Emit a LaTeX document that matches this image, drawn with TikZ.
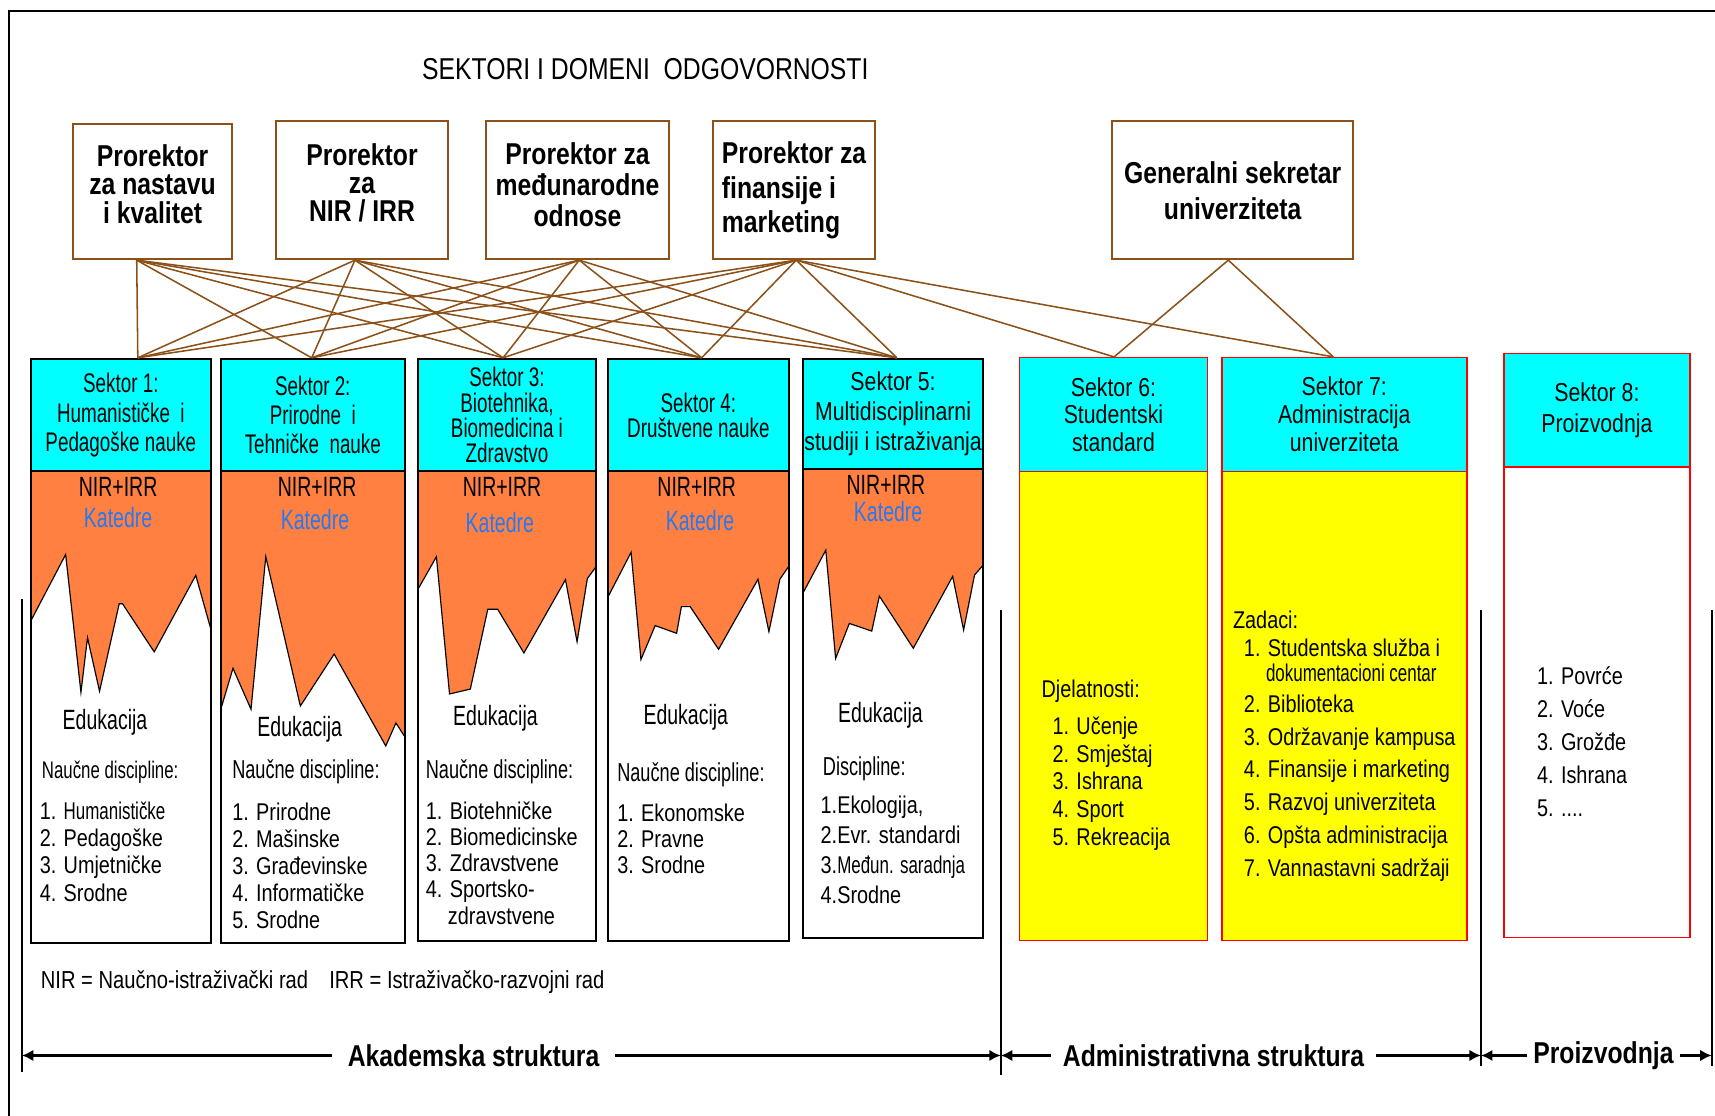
\documentclass[tikz,border=0pt]{standalone}
\usepackage{fontspec}
\setmainfont{Liberation Sans}[FakeStretch=0.82]
\newfontfamily\uska{Liberation Sans}[FakeStretch=0.7]
\usetikzlibrary{arrows.meta}
\newcommand{\pu}{0.02cm}
\definecolor{smeda}{RGB}{140,80,25}
\definecolor{cijan}{RGB}{0,255,255}
\definecolor{narandzasta}{RGB}{255,128,64}
\definecolor{zuta}{RGB}{255,255,0}
\definecolor{plava}{RGB}{40,120,240}
\definecolor{crvena}{RGB}{255,0,0}
\tikzset{
     naslov/.style = { font=\fontsize{15.7}{18}\selectfont, inner sep=0pt },
  prorektor/.style = { draw=smeda, line width=1pt, align=center, inner sep=0pt,
                       font=\bfseries\fontsize{15.7}{14.8}\selectfont },
       veza/.style = { draw=smeda, line width=0.8pt },
  zaglavlje/.style = { fill=cijan, draw=black, line width=1pt, align=center, inner sep=0pt,
                       font=\uska\fontsize{14}{15.2}\selectfont },
     tijelo/.style = { draw=black, line width=1pt, inner sep=0pt },
       gora/.style = { fill=narandzasta, draw=black, line width=0.6pt },
      pismo/.style = { font=\uska\fontsize{14.5}{16}\selectfont, inner sep=0pt },
    katedra/.style = { pismo, text=plava },
      lista/.style = { font=\fontsize{12.6}{14.1}\selectfont, align=left, anchor=west, inner sep=0pt },
   naslovl/.style = { font=\uska\fontsize{13.5}{15}\selectfont, anchor=west, inner sep=0pt },
  struktura/.style = { font=\bfseries\fontsize{15.7}{18}\selectfont, inner sep=6pt },
   strelica/.style = { line width=1.6pt, -{Latex[length=6pt,width=6pt]} },
    granica/.style = { line width=1.1pt },
}
\begin{document}
\begin{tikzpicture}[x=\pu, y=-\pu]
  \useasboundingbox (0,0) rectangle (1568,1020);
  \draw[line width=1.2pt] (8,1020) -- (8,10) -- (1568,10);

  \node[naslov] (naslov) at (590,63) {SEKTORI I DOMENI~~ODGOVORNOSTI};

  \node[prorektor, minimum width=145*\pu, minimum height=124*\pu] (p1) at (139.5,175)
    {Prorektor\\za nastavu\\i kvalitet\rule[-8pt]{0pt}{8pt}};
  \node[prorektor, minimum width=158*\pu, minimum height=126*\pu] (p2) at (331,174)
    {Prorektor\\za\\NIR / IRR\rule[-8pt]{0pt}{8pt}};
  \node[prorektor, minimum width=168*\pu, minimum height=126*\pu, font=\bfseries\fontsize{15.7}{16.2}\selectfont] (p3) at (528,174)
    {Prorektor za\\međunarodne\\odnose\rule[-6pt]{0pt}{6pt}};
  \node[prorektor, minimum width=148*\pu, minimum height=126*\pu, align=left, font=\bfseries\fontsize{15.7}{17.9}\selectfont] (p4) at (726,174)
    {Prorektor za\\finansije i\\marketing};
  \node[prorektor, minimum width=220*\pu, minimum height=126*\pu, font=\bfseries\fontsize{15.7}{18.8}\selectfont] (gs) at (1127,174)
    {Generalni sekretar\\univerziteta};

  \filldraw[gora] (28,431) -- (28,568) -- (60,507) -- (74,633) -- (80,583) -- (91,632) -- (109,552) -- (112,552)
    -- (141,596) -- (179,526) -- (193,576) -- (193,431) -- cycle;
  \filldraw[gora] (202,431) -- (202,648) -- (213,611) -- (229.5,648.5) -- (243,509) -- (274.6,645.5) -- (305.5,598)
    -- (352.7,682) -- (362,661) -- (370,673.5) -- (370,431) -- cycle;
  \filldraw[gora] (382,431) -- (382,539) -- (399,509) -- (411,634.5) -- (430,630) -- (446,557) -- (455,557)
    -- (479,597) -- (517,530) -- (527.6,586.7) -- (537,529) -- (545,518) -- (545,431) -- cycle;
  \filldraw[gora] (556,431) -- (556,545.5) -- (577,505) -- (586,603) -- (599,572) -- (618.6,579) -- (623,554.6)
    -- (631,554.6) -- (657,593.6) -- (693,529.6) -- (703,577.5) -- (713,529.6) -- (721,518) -- (721,431) -- cycle;
  \filldraw[gora] (734,429) -- (734,542.5) -- (755,503) -- (764,602) -- (776.5,570) -- (797,577) -- (804,545)
    -- (835,592.7) -- (871,527) -- (881,576) -- (891,525.7) -- (899,516.5) -- (899,429) -- cycle;

  \foreach \i/\x/\w/\t/\h in {1/110.5/165/431/862, 2/286/168/431/862, 3/463.5/163/431/860, 4/638.5/165/431/860, 5/816.5/165/429/858}
    \node[tijelo, minimum width=\w*\pu, minimum height={(\h-\t)*\pu}] (s\i b) at (\x,{(\h+\t)/2}) {};
  \node[tijelo, fill=zuta, draw=crvena, line width=0.8pt, minimum width=172*\pu, minimum height=429*\pu] (s6b) at (1018,645.5) {};
  \node[tijelo, fill=zuta, draw=crvena, line width=0.8pt, minimum width=224*\pu, minimum height=429*\pu] (s7b) at (1229,645.5) {};
  \node[tijelo, draw=crvena, line width=0.8pt, minimum width=170*\pu, minimum height=430*\pu] (s8b) at (1460,642) {};

  \node[zaglavlje, minimum width=165*\pu, minimum height=103*\pu, font=\uska\fontsize{14}{15.4}\selectfont] (s1) at (110.5,379.5)
    {Sektor 1:\\Humanističke~~i\\Pedagoške nauke};
  \node[zaglavlje, minimum width=168*\pu, minimum height=103*\pu] (s2) at (286,379.5)
    {Sektor 2:\\Prirodne~~i\\Tehničke~~nauke};
  \node[zaglavlje, minimum width=163*\pu, minimum height=103*\pu, font=\uska\fontsize{14}{13.1}\selectfont] (s3) at (463.5,379.5)
    {Sektor 3:\\Biotehnika,\\Biomedicina i\\Zdravstvo};
  \node[zaglavlje, minimum width=165*\pu, minimum height=103*\pu, font=\uska\fontsize{14}{13.1}\selectfont] (s4) at (638.5,379.5)
    {Sektor 4:\\Društvene nauke};
  \node[zaglavlje, minimum width=165*\pu, minimum height=101*\pu, font=\fontsize{13.5}{15.6}\selectfont] (s5) at (816.5,378.5)
    {Sektor 5:\\Multidisciplinarni\\studiji i istraživanja};
  \node[zaglavlje, draw=crvena, line width=0.8pt, minimum width=172*\pu, minimum height=104*\pu, font=\fontsize{13.5}{14.2}\selectfont] (s6) at (1018,379)
    {Sektor 6:\\Studentski\\standard};
  \node[zaglavlje, draw=crvena, line width=0.8pt, minimum width=224*\pu, minimum height=104*\pu, font=\fontsize{13.5}{14.5}\selectfont] (s7) at (1229,379)
    {Sektor 7:\\Administracija\\univerziteta};
  \node[zaglavlje, draw=crvena, line width=0.8pt, minimum width=170*\pu, minimum height=104*\pu, font=\fontsize{13.5}{15.9}\selectfont] (s8) at (1460,375)
    {Sektor 8:\\Proizvodnja};

  \coordinate (o1) at ([xshift=-14.5*\pu]p1.south);
  \coordinate (o2) at ([xshift=-6.5*\pu]p2.south);
  \coordinate (o3) at ([xshift=1.6*\pu]p3.south);
  \coordinate (o4) at ([xshift=2*\pu]p4.south);
  \coordinate (og) at ([xshift=-4*\pu]gs.south);
  \foreach \i/\dx in {1/15.5, 2/-1, 3/-3.5, 4/3, 5/3.5, 6/0.6, 7/-10}
    \coordinate (t\i) at ([xshift=\dx*\pu]s\i.north);
  \foreach \p in {1,...,4}
    \foreach \s in {1,...,5}
      \draw[veza] (o\p) -- (t\s);
  \foreach \s in {6,7} {
    \draw[veza] (o4) -- (t\s);
    \draw[veza] (og) -- (t\s);
  }

  \foreach \i/\x/\yn/\xk/\yk in {1/108/445/108/473, 2/290/445/288/475, 3/459/445/457/478, 4/637/445/640/476, 5/810/443/812/468} {
    \node[pismo] (nir\i) at (\x,\yn) {NIR+IRR};
    \node[katedra] (kat\i) at (\xk,\yk) {Katedre};
  }
  \foreach \i/\x/\y in {1/96/660, 2/274/667, 3/453/657, 4/627/656, 5/805/654}
    \node[pismo] (edu\i) at (\x,\y) {Edukacija};

  \node[naslovl, font=\uska\fontsize{12.5}{15}\selectfont] (nd1) at (38,706) {Naučne discipline:};
  \node[naslovl] (nd2) at (212,706) {Naučne discipline:};
  \node[naslovl] (nd3) at (389,706) {Naučne discipline:};
  \node[naslovl] (nd4) at (564,708) {Naučne discipline:};
  \node[naslovl] (nd5) at (752,703) {Discipline:};

  \node[lista, font=\fontsize{12.6}{14.2}\selectfont] (l1) at (36,778.5)
    {1. {\uska Humanističke}\\2. Pedagoške\\3. Umjetničke\\4. Srodne};
  \node[lista] (l2) at (212,791.5)
    {1. Prirodne\\2. Mašinske\\3. Građevinske\\4. Informatičke\\5. Srodne};
  \node[lista, font=\fontsize{12.6}{13.7}\selectfont] (l3) at (389,789)
    {1. Biotehničke\\2. Biomedicinske\\3. Zdravstvene\\4. Sportsko-\\\phantom{4.}\ zdravstvene};
  \node[lista, font=\fontsize{12.6}{13.7}\selectfont] (l4) at (564,767)
    {1. Ekonomske\\2. Pravne\\3. Srodne};
  \node[lista, font=\fontsize{12.6}{15.5}\selectfont] (l5) at (750,777)
    {1.Ekologija,\\2.Evr. standardi\\3.{\uska Međun. saradnja}\\4.Srodne};

  \node[lista] (dj6) at (952,632) {Djelatnosti:};
  \node[lista, font=\fontsize{12.6}{14.4}\selectfont] (l6) at (962,716.5)
    {1. Učenje\\2. Smještaj\\3. Ishrana\\4. Sport\\5. Rekreacija};
  \node[lista] (za7) at (1127,567) {Zadaci:};
  \node[lista, font=\fontsize{12.6}{17.1}\selectfont] (l7) at (1137,695)
    {1. Studentska služba i\\[-4pt]\phantom{1.}\ {\uska dokumentacioni centar}\\[-1.2pt]2. Biblioteka\\3. Održavanje kampusa\\4. Finansije i marketing\\5. Razvoj univerziteta\\6. Opšta administracija\\7. Vannastavni sadržaji};
  \node[lista, font=\fontsize{12.6}{17.1}\selectfont] (l8) at (1405,678)
    {1. Povrće\\2. Voće\\3. Grožđe\\4. Ishrana\\5. ....};

  \node[lista, font=\fontsize{12.8}{15}\selectfont] (leg) at (37,898)
    {NIR = Naučno-istraživački rad\hspace{11pt}IRR = Istraživačko-razvojni rad};

  \foreach \x/\y/\z in {20/548/980, 915/558/983, 1354/558/975, 1565/558/975}
    \draw[granica] (\x,\y) -- (\x,\z);
  \coordinate (a0) at (20,965);
  \coordinate (a1) at (915,965);
  \coordinate (a2) at (1354,965);
  \coordinate (a3) at (1565,965);
  \node[struktura, inner xsep=8pt] (akad) at (433,965) {Akademska struktura};
  \node[struktura] (admin) at (1109.5,965) {Administrativna struktura};
  \node[struktura, inner xsep=3pt] (proiz) at (1466,965) {Proizvodnja};
  \draw[strelica] (akad) -- (a0);
  \draw[strelica] (akad) -- (a1);
  \draw[strelica] (admin) -- (a1);
  \draw[strelica] (admin) -- (a2);
  \draw[strelica] (proiz) -- (a2);
  \draw[strelica] (proiz) -- (a3);
\end{tikzpicture}
\end{document}
